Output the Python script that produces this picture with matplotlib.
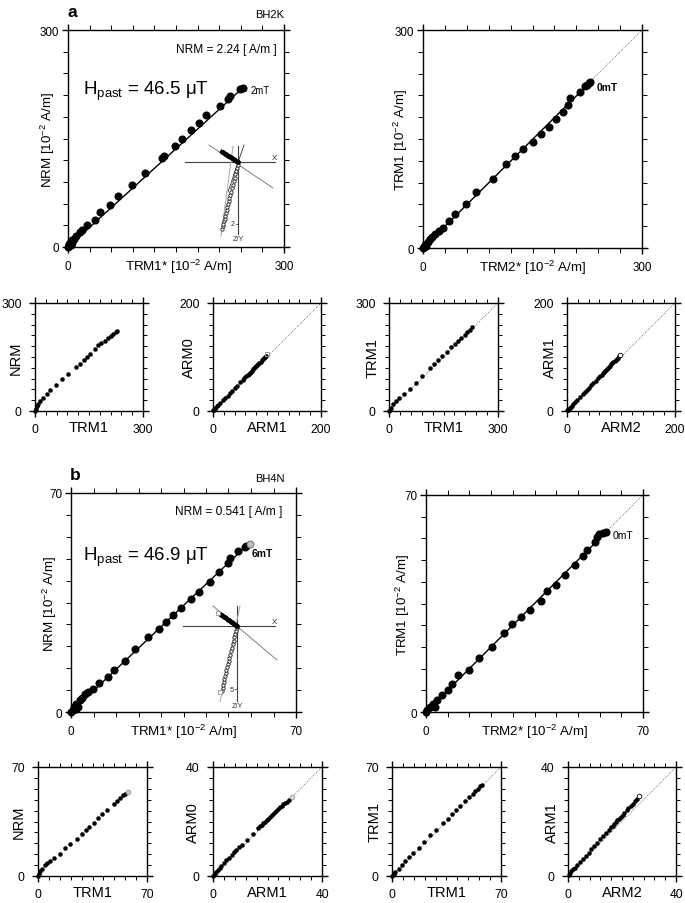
import numpy as np
import matplotlib
matplotlib.use('Agg')
import matplotlib.pyplot as plt

plt.rcParams['font.family'] = ['Liberation Sans', 'DejaVu Sans']
plt.rcParams['mathtext.fontset'] = 'custom'
plt.rcParams['mathtext.rm'] = 'Liberation Sans'
plt.rcParams['mathtext.it'] = 'Liberation Sans:italic'
plt.rcParams['mathtext.bf'] = 'Liberation Sans:bold'

# ---------------- DATA ----------------
# Panel a, main left: NRM vs TRM1*
a_main_x = [0, 0.8, 1.5, 1.4, 2.3, 3.8, 3.2, 4.6, 5.0, 6.0, 8, 11.6, 16, 20, 26, 37, 44, 58, 70, 89, 107,
            130.5, 133, 148, 159, 171, 181.5, 192, 210.6, 222, 224.5, 238.4, 243]
a_main_y = [0, 1.0, 3.5, 2.3, 4.6, 2.5, 6.0, 8, 5.5, 9.5, 11.5, 15, 21, 24, 30, 38, 48, 58, 70, 86, 102.4,
            122.6, 126, 140, 149, 162, 172, 182, 195, 205, 209, 219, 220.5]
a_main_fit_x = [0, 245]
a_main_fit_y = [0, 222]

# Panel a, main right: TRM1 vs TRM2*
a_right_x = [0, 1, 2.0, 3.2, 4.5, 6.4, 9, 12, 17, 21.5, 27, 35, 44, 59, 73, 96, 113.7, 126.5, 137, 150,
             161, 173, 182.6, 192, 198.6, 202, 215.5, 222, 224, 227, 229]
a_right_y = [0, 1.4, 0.8, 4.6, 3.0, 8, 12, 15, 19.7, 23, 28, 36.6, 47, 61, 77, 95, 116, 126.4, 135.6, 146,
             157, 167, 177, 187, 197, 206, 214, 222.6, 224.5, 227, 228]
a_right_fit_x = [0, 229]
a_right_fit_y = [0, 228]

# Panel a, small 1: NRM vs TRM1
a_s1_x = [0, 2, 4.6, 9, 14, 21, 32, 43, 58, 74, 92, 113.6, 124.7, 135.7, 145, 154, 166, 175.4, 184.7,
          194, 203, 210.5, 217, 224, 228]
a_s1_y = [0, 6.5, 13, 20, 28, 37, 48, 59, 71, 89.6, 103, 122, 131, 142, 149.6, 159, 172.7, 182, 188,
          195.7, 202, 207.8, 214, 218.8, 221.6]

# Panel a, small 2: ARM0 vs ARM1
a_s2_x = [0.5, 1.5, 3, 4.5, 7.4, 10, 13.6, 18, 23, 27, 32, 36, 41, 45, 50.6, 55, 58, 61.7, 64, 66, 68,
          70, 72, 74, 76, 78, 80, 82, 84, 86, 88, 90, 92, 94, 96, 98]
a_s2_y = [1, 2.5, 4.5, 6, 9, 11.5, 15, 19.5, 24.5, 28.5, 33.5, 37.5, 42.5, 47, 53, 57, 60.5, 64, 66.5,
          68.5, 71, 73, 75, 77, 79.5, 81.5, 83.5, 85.5, 87.5, 89.5, 91.5, 94, 96, 98, 100, 102]
a_s2_last = (100.5, 105)

# Panel a, small 3: TRM1 vs TRM1
a_s3_x = [0, 1.8, 4.6, 11, 18, 27.5, 40, 57, 73.4, 91.7, 112, 123, 135, 146.8, 159.6, 171.6, 181, 190,
          199, 208, 215.6, 222, 229]
a_s3_y = [0, 3.7, 9, 18.5, 27.7, 37, 48, 62, 78.5, 97, 119, 131, 142, 154, 165, 177, 186.5, 194, 203,
          211, 219, 225, 232.7]

# Panel a, small 4: ARM1 vs ARM2
a_s4_x = [0.5, 1, 2, 3.5, 5, 7, 9, 12, 15.4, 19, 24.6, 29, 33, 37, 40, 45, 49, 53, 57, 61.5, 64, 66, 68,
          70, 72, 74, 76, 78, 80, 82, 84, 86, 88, 90, 92, 94, 96]
a_s4_y = [1, 1.6, 2.6, 4.2, 5.8, 7.9, 10, 13.2, 16.7, 20.4, 26.2, 30.8, 35, 39, 42.3, 47.5, 51.7, 56, 60.2,
          64.8, 67.4, 69.5, 71.6, 73.7, 75.8, 77.9, 80, 82.1, 84.2, 86.3, 88.4, 90.5, 92.6, 94.7, 96.8, 98.9, 101]
a_s4_last = (98.5, 102.8)

# Panel b, main left: NRM vs TRM1*
b_main_x = [0, 0.6, 1.0, 1.5, 1.7, 2.2, 2.9, 3.4, 4.5, 5.2, 6.8, 8.7, 11.4, 13.3, 16.9, 20, 24, 27.3,
            29.6, 31.6, 34.3, 37.3, 39.9, 43.3, 46, 49, 49.6, 51.9, 54, 54.5]
b_main_y = [0, 0.5, 1.6, 0.8, 2.7, 1.5, 3.7, 4.6, 5.6, 6.4, 7.5, 9.3, 11.2, 13.5, 16.3, 20.2, 24, 26.6,
            28.8, 30.9, 33.3, 36.2, 38.4, 41.6, 44.7, 47.7, 49.3, 51.5, 52.6, 53]
b_main_last = (55.8, 53.8)
b_main_fit_x = [0, 55]
b_main_fit_y = [0, 53.5]

# Panel b, main right: TRM1 vs TRM2*
b_right_x = [0, 0.4, 1.3, 2.4, 3.0, 3.7, 5.3, 7, 8.5, 10.2, 14, 17.1, 21.2, 25.1, 27.8, 30.8, 33.6, 37,
             39, 42, 44.8, 48.1, 50.7, 52, 54.6, 55.3, 55.8, 57.1, 58.2]
b_right_y = [0, 0.5, 1.6, 2.7, 1.5, 3.75, 5.4, 7.2, 9.1, 11.8, 13.6, 17.5, 21.1, 25.6, 28.4, 30.8, 33, 35.9,
             39, 41, 44.3, 47.5, 50.4, 52.2, 54.9, 56.3, 57.3, 57.9, 58.2]
b_right_fit_x = [0, 58]
b_right_fit_y = [0, 58]

# Panel b, small 1: NRM vs TRM1
b_s1_x = [0, 0.9, 1.5, 2.6, 4.3, 5.8, 7.9, 10.5, 13.9, 17.5, 20.8, 25, 28.3, 30.8, 33, 35.7, 38.5, 41,
          44.3, 48.6, 50.7, 52.9, 54.6, 56]
b_s1_y = [0, 1.5, 3, 4.7, 6.8, 8.3, 9.6, 11.8, 14.3, 18.2, 20.8, 24, 27.2, 29.3, 31.5, 34, 37.5, 39.6,
          42.2, 46.5, 48.2, 50, 51.8, 52.9]
b_s1_last = (57.8, 54)

# Panel b, small 2: ARM0 vs ARM1
b_s2_x = [0, 0.6, 1.2, 1.8, 2.5, 3.1, 4.0, 4.9, 5.8, 6.8, 7.7, 8.6, 9.5, 10.5, 12.3, 14.8, 16.6, 17.2,
          17.8, 18.5, 19.1, 19.7, 20.3, 20.9, 21.5, 22.3, 23.1, 23.8, 24.6, 25.2, 25.8, 26.5, 27.1, 27.8]
b_s2_y = [0, 0.9, 1.5, 2.1, 2.8, 3.5, 4.6, 5.7, 6.6, 7.6, 8.7, 9.7, 10.5, 11.3, 13.1, 15.5, 17.6, 18.2,
          18.8, 19.3, 19.8, 20.4, 21, 21.7, 22.3, 23.0, 23.7, 24.5, 25.3, 25.8, 26.3, 26.8, 27.2, 27.8]
b_s2_last = (28.9, 29)

# Panel b, small 3: TRM1 vs TRM1
b_s3_x = [0, 1.1, 2.1, 4.3, 6.4, 8.6, 10.7, 13.5, 17.1, 20.3, 24.6, 28.5, 32.8, 35.8, 38.5, 41.3, 43.9,
          46.7, 49.2, 52, 53.5, 55.2, 56.7, 57.8]
b_s3_y = [0, 1.1, 2.6, 4.7, 6.85, 9.6, 12.2, 14.8, 18.2, 21.8, 26.1, 29.3, 34, 36.8, 39.6, 42.2, 44.7,
          48.2, 50.7, 52.9, 54.6, 56.1, 57.6, 58.7]

# Panel b, small 4: ARM1 vs ARM2
b_s4_x = [0.2, 0.6, 1.2, 2.0, 2.5, 3.4, 4.3, 5.4, 6.6, 7.6, 8.7, 9.8, 10.8, 12, 13, 14, 15.2, 15.9, 16.5,
          17.1, 17.7, 18.3, 18.9, 19.5, 20.2, 20.9, 21.7, 22.4, 23.2, 24, 24.8, 25.6]
b_s4_y = [0.5, 1.0, 1.7, 2.5, 3.1, 4.0, 5.0, 6.2, 7.5, 8.6, 9.8, 11.0, 12.1, 13.4, 14.6, 15.6, 17.0, 17.8,
          18.4, 19.1, 19.7, 20.4, 21.0, 21.7, 22.5, 23.2, 24.1, 24.8, 25.7, 26.6, 27.4, 28.3]
b_s4_last = (26.4, 29.2)

# Zijderveld insets (arbitrary units, origin = demagnetised end)
zij_a = dict(
    xaxis_u=[-53, 37], yaxis_v=[16, -72],
    hor_u=[-16.0, -15.0, -14.1, -13.2, -12.1, -11.0, -10.2, -9.1, -8.0, -7.2, -6.1, -5.0, -4.1, -3.0, -2.0, -1.1, 0.0],
    hor_v=[10.2, 9.6, 9.0, 8.4, 7.7, 7.0, 6.5, 5.8, 5.1, 4.6, 3.9, 3.2, 2.6, 1.9, 1.3, 0.7, 0.0],
    ver_u=[-16.0, -15.4, -14.8, -14.1, -13.5, -12.9, -12.2, -11.5, -10.8, -10.1, -9.4, -8.6, -7.8, -7.0,
           -6.1, -5.2, -4.3, -3.4, -2.6, -1.8, -1.1, -0.5, 0.0],
    ver_v=[-67, -64, -61.5, -59, -56.5, -54, -51, -48, -45, -42, -39, -36, -33, -29.5, -26, -22.5, -19,
           -15.5, -12, -8.5, -5.5, -2.5, 0],
    fit_h_u=[-29, 35], fit_h_v=[17, -26],
    fit_v_u=[-5, -17], fit_v_v=[16, -74],
    fit_v2_u=[6, -10], fit_v2_v=[17, -30],
    tick_label='2', tick_v=-62,
)
zij_b = dict(
    xaxis_u=[-54, 38], yaxis_v=[20, -75],
    hor_u=[-17.0, -16.0, -15.0, -14.0, -13.0, -12.0, -11.0, -10.0, -9.0, -8.0, -7.0, -6.0, -5.0, -4.0, -3.0, -2.0, -1.0, 0.0],
    hor_v=[12.0, 11.4, 10.7, 10.0, 9.3, 8.6, 7.9, 7.2, 6.5, 5.8, 5.0, 4.3, 3.6, 2.9, 2.2, 1.4, 0.7, 0.0],
    ver_u=[-15.0, -14.5, -13.9, -13.3, -12.7, -12.0, -11.3, -10.6, -9.9, -9.2, -8.4, -7.6, -6.8, -6.0,
           -5.1, -4.2, -3.4, -2.6, -1.8, -1.1, -0.5, 0.0],
    ver_v=[-65, -62, -59, -56, -53, -50, -47, -44, -41, -38, -35, -32, -28.5, -25, -21.5, -18, -14.5, -11,
           -7.5, -4.5, -2, 0],
    start_h=(-19, 13), start_v=(-17, -66),
    fit_h_u=[-24, 40], fit_h_v=[20, -34],
    fit_v_u=[3, -17], fit_v_v=[20, -76],
    tick_label='5', tick_v=-63,
)

# ---------------- FIGURE ----------------
W, H = 685, 904
fig = plt.figure(figsize=(W / 100, H / 100), dpi=100)


def make_axes(x0, x1, y0, y1):
    return fig.add_axes([x0 / W, 1 - y1 / H, (x1 - x0) / W, (y1 - y0) / H])


def frame(ax, vmax, big):
    ax.set_xlim(0, vmax)
    ax.set_ylim(0, vmax)
    t = np.linspace(0, vmax, 11)
    lab = ['0'] + [''] * 9 + [str(vmax)]
    ax.set_xticks(t)
    ax.set_xticklabels(lab)
    ax.set_yticks(t)
    ax.set_yticklabels(lab)
    L = 3.3 if big else 2.6
    fs = 8.4 if big else 8.7
    ax.tick_params(direction='out', top=True, right=True, length=L, width=0.7,
                   labelsize=fs, colors='k')
    ax.tick_params(axis='x', pad=6.3 if big else 6.0)
    ax.tick_params(axis='y', pad=3.0 if big else 7.0)
    for s in ax.spines.values():
        s.set_visible(False)
    bb = ax.get_position()
    ex = 6 / (bb.width * W)
    ey = 6 / (bb.height * H)
    kw = dict(transform=ax.transAxes, clip_on=False, color='k', lw=1.0, solid_capstyle='butt', zorder=5)
    ax.plot([-ex, 1 + ex], [0, 0], **kw)
    ax.plot([-ex, 1 + ex], [1, 1], **kw)
    ax.plot([0, 0], [-ey, 1 + ey], **kw)
    ax.plot([1, 1], [-ey, 1 + ey], **kw)


def labels(ax, xl, yl, fs, ylx, base_px, xlx=0.5):
    bb = ax.get_position()
    ax.text(xlx, -base_px / (bb.height * H), xl, transform=ax.transAxes, ha='center',
            va='baseline', fontsize=fs)
    ax.text(ylx, 0.5, yl, transform=ax.transAxes, ha='center', va='center',
            rotation=90, fontsize=fs)


def ftxt(x, y, s, **kw):
    fig.text(x / W, 1 - y / H, s, va='baseline', **kw)


def diag(ax, vmax):
    ax.plot([0, vmax], [0, vmax], ls=(0, (1, 1.5)), color='0.35', lw=0.6, zorder=1)


def big_pts(ax, x, y):
    ax.plot(x, y, 'o', color='k', ms=4.8, mec='k', zorder=3, clip_on=False)


def small_pts(ax, x, y):
    ax.plot(x, y, 'o', color='k', ms=2.9, mec='k', mew=0.3, zorder=3, clip_on=False)


def zijderveld(ax, z):
    ax.set_xlim(-58, 42)
    ax.set_ylim(-78, 22)
    ax.axis('off')
    ax.plot(z['xaxis_u'], [0, 0], color='0.25', lw=0.8)
    ax.plot([0, 0], z['yaxis_v'], color='0.25', lw=0.8)
    ax.plot(z['fit_h_u'], z['fit_h_v'], color='0.5', lw=0.7)
    ax.plot(z['fit_v_u'], z['fit_v_v'], color='0.65', lw=0.7)
    if 'fit_v2_u' in z:
        ax.plot(z['fit_v2_u'], z['fit_v2_v'], color='0.2', lw=0.6)
    ax.plot(z['ver_u'], z['ver_v'], 'o', ms=2.4, mfc='white', mec='0.1', mew=0.6, zorder=3)
    ax.plot(z['hor_u'], z['hor_v'], '-', color='k', lw=2.8, zorder=4)
    ax.plot(z['hor_u'], z['hor_v'], 'o', ms=2.3, color='k', zorder=4)
    if 'start_h' in z:
        ax.plot(*z['start_h'], 's', ms=2.6, mfc='white', mec='0.5', mew=0.5, zorder=5)
        ax.plot(*z['start_v'], 's', ms=2.6, mfc='white', mec='0.5', mew=0.5, zorder=5)
    ax.text(z['xaxis_u'][1] - 1, 1, 'X', fontsize=5.8, ha='center', va='bottom', color='0.2')
    ax.plot([-2.5, 0], [z['tick_v'], z['tick_v']], color='0.25', lw=0.6)
    ax.text(-3, z['tick_v'], z['tick_label'], fontsize=5.2, ha='right', va='center', color='0.2')
    ax.text(0, z['yaxis_v'][1] - 1, 'Z/Y', fontsize=5.2, ha='center', va='top', color='0.2')


# ---- Panel a main left ----
ax = make_axes(68, 284, 31, 248)
frame(ax, 300, True)
ax.plot(a_main_fit_x, a_main_fit_y, color='k', lw=1.0, zorder=2)
big_pts(ax, a_main_x, a_main_y)
labels(ax, r'TRM1* [10$^{-2}$ A/m]', r'NRM [10$^{-2}$ A/m]', 9.6, -0.093, 23, 0.513)
ftxt(68, 17, 'a', fontsize=12.5, fontweight='bold')
ftxt(284, 18, 'BH2K', fontsize=8, ha='right')
ftxt(277, 53, 'NRM = 2.24 [ A/m ]', fontsize=8.6, ha='right')
ftxt(83, 95, r'H$_{\rm past}$ = 46.5 μT', fontsize=13.5)
ftxt(251, 94, '2mT', fontsize=6.9)
axz = make_axes(180, 280, 141, 241)
zijderveld(axz, zij_a)

# ---- Panel a main right ----
ax = make_axes(423, 642, 31, 249)
frame(ax, 300, True)
diag(ax, 300)
ax.plot(a_right_fit_x, a_right_fit_y, color='k', lw=1.0, zorder=2)
big_pts(ax, a_right_x, a_right_y)
labels(ax, r'TRM2* [10$^{-2}$ A/m]', r'TRM1 [10$^{-2}$ A/m]', 9.6, -0.10, 23)
ftxt(597, 91, '0mT', fontsize=7.4, fontweight='bold')

# ---- Panel a small ----
ya0, ya1 = 304, 412
ax = make_axes(35, 143, ya0, ya1)
frame(ax, 300, False)
small_pts(ax, a_s1_x, a_s1_y)
labels(ax, 'TRM1', 'NRM', 10.5, -0.176, 20)

ax = make_axes(213, 321, ya0, ya1)
frame(ax, 200, False)
diag(ax, 200)
small_pts(ax, a_s2_x, a_s2_y)
ax.plot(*a_s2_last, 's', ms=3.3, mfc='none', mec='0.6', mew=0.7, zorder=4)
labels(ax, 'ARM1', 'ARM0', 10.5, -0.222, 20)

ax = make_axes(389, 498, ya0, ya1)
frame(ax, 300, False)
diag(ax, 300)
small_pts(ax, a_s3_x, a_s3_y)
labels(ax, 'TRM1', 'TRM1', 10.5, -0.147, 20)

ax = make_axes(567, 675, ya0, ya1)
frame(ax, 200, False)
diag(ax, 200)
small_pts(ax, a_s4_x, a_s4_y)
ax.plot(*a_s4_last, 'o', ms=3.3, mfc='white', mec='k', mew=0.6, zorder=4)
labels(ax, 'ARM2', 'ARM1', 10.5, -0.157, 20)

# ---- Panel b main left ----
ax = make_axes(71, 296, 494, 713)
frame(ax, 70, True)
ax.plot(b_main_fit_x, b_main_fit_y, color='k', lw=1.0, zorder=2)
big_pts(ax, b_main_x, b_main_y)
ax.plot(*b_main_last, 'o', ms=5.0, mfc='0.75', mec='0.45', mew=0.7, zorder=4, clip_on=False)
labels(ax, r'TRM1* [10$^{-2}$ A/m]', r'NRM [10$^{-2}$ A/m]', 9.6, -0.093, 23)
ftxt(70, 480, 'b', fontsize=12.5, fontweight='bold')
ftxt(285, 482, 'BH4N', fontsize=8, ha='right')
ftxt(282, 515, 'NRM = 0.541 [ A/m ]', fontsize=8.6, ha='right')
ftxt(83, 561, r'H$_{\rm past}$ = 46.9 μT', fontsize=13.5)
ftxt(252, 557, '6mT', fontsize=7.4, fontweight='bold')
axz = make_axes(179, 279, 605, 705)
zijderveld(axz, zij_b)

# ---- Panel b main right ----
ax = make_axes(426, 643, 496, 713)
frame(ax, 70, True)
diag(ax, 70)
ax.plot(b_right_fit_x, b_right_fit_y, color='k', lw=1.0, zorder=2)
big_pts(ax, b_right_x, b_right_y)
labels(ax, r'TRM2* [10$^{-2}$ A/m]', r'TRM1 [10$^{-2}$ A/m]', 9.6, -0.106, 23)
ftxt(613, 539, '0mT', fontsize=7.4)

# ---- Panel b small ----
yb0, yb1 = 768, 877
ax = make_axes(38, 147, yb0, yb1)
frame(ax, 70, False)
small_pts(ax, b_s1_x, b_s1_y)
ax.plot(*b_s1_last, 'o', ms=3.3, mfc='0.8', mec='0.55', mew=0.6, zorder=4)
labels(ax, 'TRM1', 'NRM', 10.5, -0.174, 20)

ax = make_axes(213, 322, yb0, yb1)
frame(ax, 40, False)
diag(ax, 40)
small_pts(ax, b_s2_x, b_s2_y)
ax.plot(*b_s2_last, 'o', ms=3.3, mfc='0.85', mec='0.6', mew=0.6, zorder=4)
labels(ax, 'ARM1', 'ARM0', 10.5, -0.183, 20)

ax = make_axes(392, 501, yb0, yb1)
frame(ax, 70, False)
diag(ax, 70)
small_pts(ax, b_s3_x, b_s3_y)
labels(ax, 'TRM1', 'TRM1', 10.5, -0.156, 20)

ax = make_axes(568, 676, yb0, yb1)
frame(ax, 40, False)
diag(ax, 40)
small_pts(ax, b_s4_x, b_s4_y)
ax.plot(*b_s4_last, 'o', ms=3.3, mfc='white', mec='k', mew=0.6, zorder=4)
labels(ax, 'ARM2', 'ARM1', 10.5, -0.148, 20)

fig.savefig('out.png', dpi=100)
